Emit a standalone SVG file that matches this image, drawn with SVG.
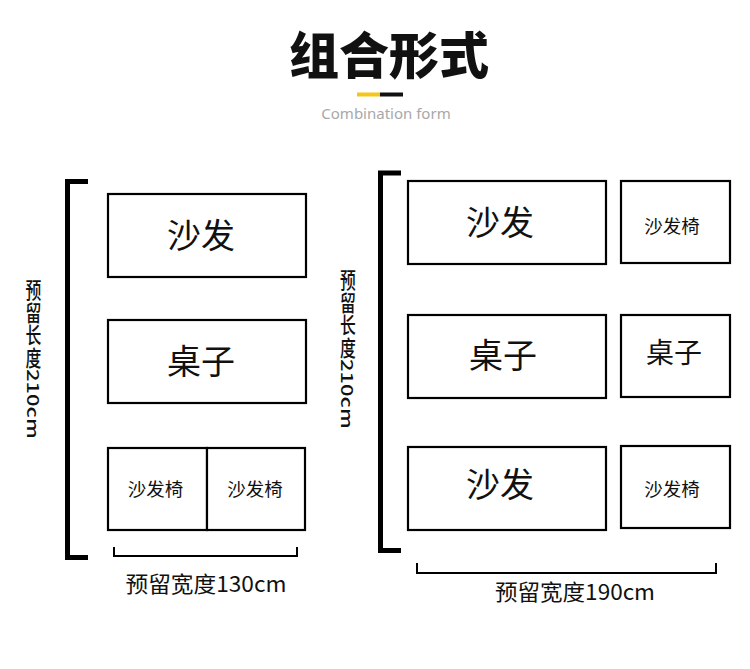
<svg xmlns="http://www.w3.org/2000/svg" width="750" height="669" viewBox="0 0 750 669">
<style>
  text { font-family: "Noto Sans CJK SC", "Noto Sans", sans-serif; fill: #111; }
  .box { fill: #fff; stroke: #000; stroke-width: 2.2; }
  .bracket { fill: none; stroke: #000; stroke-width: 5; }
  .thin { fill: none; stroke: #000; stroke-width: 2; }
  .big { font-size: 34px; text-anchor: middle; dominant-baseline: central; }
  .mid { font-size: 28px; text-anchor: middle; dominant-baseline: central; }
  .small { font-size: 18.5px; text-anchor: middle; dominant-baseline: central; }
  .dim { font-size: 22px; text-anchor: middle; }
  .v { font-size: 22px; font-weight: 500; text-anchor: middle; dominant-baseline: central; }
  .vr { font-size: 22px; font-weight: 500; text-anchor: start; dominant-baseline: central; }
</style>
<rect width="750" height="669" fill="#fff"/>
<g id="title">
  <text x="389" y="74" font-size="50" font-weight="900" text-anchor="middle" style="font-family:'Noto Sans CJK SC',sans-serif" fill="#000">组合形式</text>
  <rect x="357" y="92.5" width="23" height="4" fill="#f5c518"/>
  <rect x="380" y="92.5" width="23" height="4" fill="#111"/>
  <text x="386" y="119" font-size="15" text-anchor="middle" style="font-family:'Noto Sans','Open Sans',sans-serif;fill:#a8a8a8">Combination form</text>
</g>
<g id="connectors">
  <path class="bracket" d="M88,181.5 H67.5 V557.5 H88"/>
  <path class="thin" d="M114,547 V556 H297 V547"/>
  <path class="bracket" d="M401,173 H380.5 V550.5 H401"/>
  <path class="thin" d="M417,563 V573 H716 V563"/>
</g>
<g id="left-sofa"><rect class="box" x="108" y="194" width="198" height="83"/><text class="big" x="201" y="233.5">沙发</text></g>
<g id="left-table"><rect class="box" x="108" y="320" width="198" height="83"/><text class="big" x="201" y="359">桌子</text></g>
<g id="left-chair1"><rect class="box" x="108" y="448" width="99" height="82"/><text class="small" x="155.5" y="487.5">沙发椅</text></g>
<g id="left-chair2"><rect class="box" x="207" y="448" width="98" height="82"/><text class="small" x="255" y="487.5">沙发椅</text></g>
<g id="left-length" transform="translate(33.5 0) scale(0.72 1)">
  <text class="v"><tspan x="0" y="289">预</tspan><tspan x="0" y="311.5">留</tspan><tspan x="0" y="334">长</tspan><tspan x="0" y="356.5">度</tspan></text>
  <text class="vr" transform="translate(0 369) rotate(90)">210cm</text>
</g>
<g id="left-width"><text class="dim" x="206" y="592" textLength="161" lengthAdjust="spacingAndGlyphs">预留宽度130cm</text></g>
<g id="right-sofa1"><rect class="box" x="408" y="181" width="198" height="83"/><text class="big" x="500" y="220">沙发</text></g>
<g id="right-chair1"><rect class="box" x="621" y="181" width="109" height="82"/><text class="small" x="672" y="225">沙发椅</text></g>
<g id="right-table1"><rect class="box" x="408" y="315" width="198" height="83"/><text class="big" x="503" y="353">桌子</text></g>
<g id="right-table2"><rect class="box" x="621" y="315" width="109" height="82"/><text class="mid" x="674" y="351">桌子</text></g>
<g id="right-sofa2"><rect class="box" x="408" y="447" width="198" height="83"/><text class="big" x="500" y="482">沙发</text></g>
<g id="right-chair2"><rect class="box" x="621" y="446" width="109" height="82"/><text class="small" x="672" y="488">沙发椅</text></g>
<g id="right-length" transform="translate(348 -10) scale(0.72 1)">
  <text class="v"><tspan x="0" y="289">预</tspan><tspan x="0" y="311.5">留</tspan><tspan x="0" y="334">长</tspan><tspan x="0" y="356.5">度</tspan></text>
  <text class="vr" transform="translate(0 369) rotate(90)">210cm</text>
</g>
<g id="right-width"><text class="dim" x="575" y="600" textLength="160" lengthAdjust="spacingAndGlyphs">预留宽度190cm</text></g>
</svg>
